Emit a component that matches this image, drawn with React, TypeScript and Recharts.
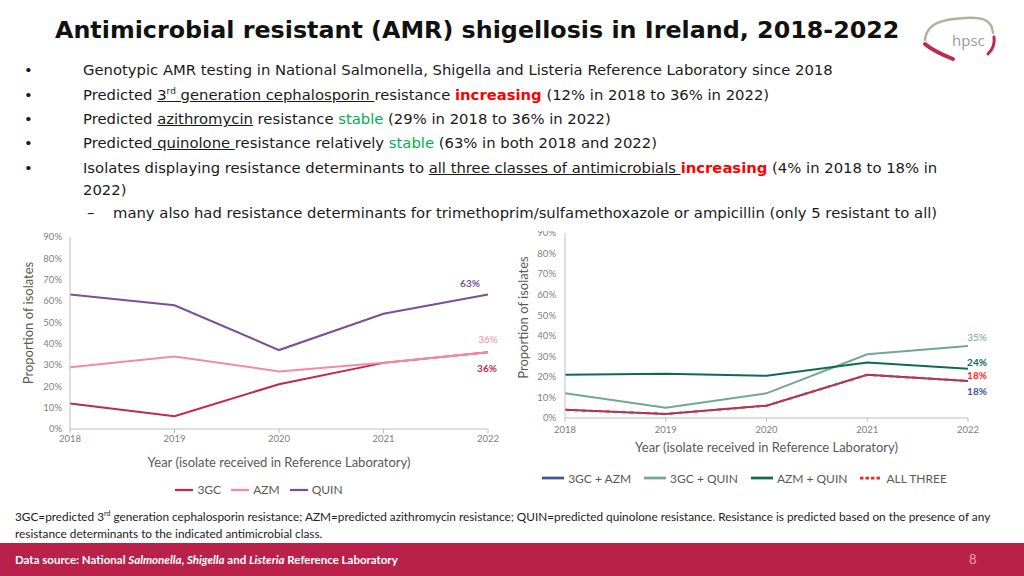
import React from 'react';
import { LineChart, Line, XAxis, YAxis, Legend } from 'recharts';

const years = ['2018', '2019', '2020', '2021', '2022'];
const yTicks = [0, 10, 20, 30, 40, 50, 60, 70, 80, 90];

// left chart: single class resistance (% of isolates)
const gc3 = [12, 6, 21, 31, 36];
const azm = [29, 34, 27, 31, 36];
const quin = [63, 58, 37, 54, 63];

// right chart: combined resistance (% of isolates)
const gc3Azm = [4, 2, 6, 21, 18];
const gc3Quin = [12, 5, 12, 31, 35];
const azmQuin = [21, 21.5, 20.5, 27, 24];
const allThree = [4, 2, 6, 21, 18];

const comboOrder = ['3GC + AZM', '3GC + QUIN', 'AZM + QUIN', 'ALL THREE'];

const singleData = years.map((year, i) => ({ year, gc3: gc3[i], azm: azm[i], quin: quin[i] }));
const comboData = years.map((year, i) => ({
  year,
  gc3Azm: gc3Azm[i],
  gc3Quin: gc3Quin[i],
  azmQuin: azmQuin[i],
  allThree: allThree[i],
}));

const CHART_FONT = 'Lato, "Open Sans", sans-serif';
const TEXT_FONT = '"DejaVu Sans", Verdana, sans-serif';
const AXIS_GREY = '#BFBFBF';
const TICK_GREY = '#7F7F7F';
const TITLE_GREY = '#595959';

const endLabel = (color: string, dx: number, dy: number, bold = true) => (props: any) => {
  const { x, y, index, value } = props;
  if (index !== years.length - 1) return null;
  return (
    <text
      x={x + dx}
      y={y + dy}
      fill={color}
      fontSize={10}
      fontWeight={bold ? 700 : 400}
      fontFamily={CHART_FONT}
      textAnchor="middle"
      dominantBaseline="central"
    >
      {value}%
    </text>
  );
};

const yTitle = (dy: number, dx: number) => (props: any) => {
  const { viewBox } = props;
  const cx = viewBox.x + dx;
  const cy = viewBox.y + viewBox.height / 2 + dy;
  return (
    <text
      x={cx}
      y={cy}
      transform={`rotate(-90 ${cx} ${cy})`}
      textAnchor="middle"
      dominantBaseline="central"
      fill={TITLE_GREY}
      fontSize={13}
      fontFamily={CHART_FONT}
    >
      Proportion of isolates
    </text>
  );
};

const legendText = (value: string) => (
  <span style={{ color: TITLE_GREY, fontSize: 12, fontFamily: CHART_FONT }}>{value}</span>
);

const xTitle = 'Year (isolate received in Reference Laboratory)';

function SingleChart() {
  return (
    <LineChart
      width={510}
      height={275}
      data={singleData}
      margin={{ top: 12, right: 22, left: 16, bottom: 3 }}
    >
      <XAxis
        dataKey="year"
        stroke={AXIS_GREY}
        tickSize={4}
        tickMargin={2}
        height={48}
        tick={{ fill: TICK_GREY, fontSize: 9.5, fontFamily: CHART_FONT }}
        label={{ value: xTitle, position: 'insideBottom', offset: 10, fill: TITLE_GREY, fontSize: 13, fontFamily: CHART_FONT }}
      />
      <YAxis
        width={54}
        domain={[0, 90]}
        ticks={yTicks}
        interval={0}
        stroke={AXIS_GREY}
        tickLine={false}
        tickSize={6}
        tickMargin={2}
        tickFormatter={(v: number) => `${v}%`}
        tick={{ fill: TICK_GREY, fontSize: 9.5, fontFamily: CHART_FONT }}
        label={{ content: yTitle(-10, 12) }}
      />
      <Legend
        height={20}
        iconType="plainline"
        iconSize={18}
        formatter={legendText}
        wrapperStyle={{ lineHeight: '20px', left: 28, top: 254 }}
      />
      <Line dataKey="gc3" name="3GC" stroke="#C0284F" strokeWidth={2} dot={false} isAnimationActive={false}
        label={endLabel('#C0284F', -1, 16)} />
      <Line dataKey="azm" name="AZM" stroke="#F28BA5" strokeWidth={2} dot={false} isAnimationActive={false}
        label={endLabel('#F28BA5', 0, -13, false)} />
      <Line dataKey="quin" name="QUIN" stroke="#7D4E96" strokeWidth={2} dot={false} isAnimationActive={false}
        label={endLabel('#7D4E96', -18, -12)} />
    </LineChart>
  );
}

function ComboChart() {
  return (
    <LineChart
      width={514}
      height={270}
      data={comboData}
      margin={{ top: 13, right: 56, left: 0, bottom: 10 }}
    >
      <XAxis
        dataKey="year"
        stroke={AXIS_GREY}
        tickSize={4}
        tickMargin={4}
        height={42}
        tick={{ fill: TICK_GREY, fontSize: 9.5, fontFamily: CHART_FONT }}
        label={{ value: xTitle, position: 'insideBottom', offset: 8, fill: TITLE_GREY, fontSize: 13, fontFamily: CHART_FONT }}
      />
      <YAxis
        width={55}
        domain={[0, 90]}
        ticks={yTicks}
        interval={0}
        stroke={AXIS_GREY}
        tickLine={false}
        tickSize={6}
        tickMargin={3}
        tickFormatter={(v: number) => `${v}%`}
        tick={{ fill: TICK_GREY, fontSize: 9.5, fontFamily: CHART_FONT }}
        label={{ content: yTitle(-8, 13) }}
      />
      <Legend
        height={20}
        iconType="plainline"
        iconSize={22}
        formatter={(value: string) => (
          <span style={{ color: TITLE_GREY, fontSize: 12, fontFamily: CHART_FONT, paddingRight: 3 }}>{value}</span>
        )}
        itemSorter={(item: any) => comboOrder.indexOf(item.value)}
        wrapperStyle={{ lineHeight: '20px', left: 12, top: 247 }}
      />
      <Line dataKey="gc3Azm" name="3GC + AZM" stroke="#44549A" strokeWidth={2} dot={false} isAnimationActive={false}
        label={endLabel('#44549A', 9, 10)} />
      <Line dataKey="gc3Quin" name="3GC + QUIN" stroke="#72A890" strokeWidth={2} dot={false} isAnimationActive={false}
        label={endLabel('#72A890', 9, -9, false)} />
      <Line dataKey="azmQuin" name="AZM + QUIN" stroke="#0E6A52" strokeWidth={2} dot={false} isAnimationActive={false}
        label={endLabel('#0E6A52', 9, -7)} />
      <Line dataKey="allThree" name="ALL THREE" stroke="#FF1F1F" strokeWidth={2} strokeDasharray="5 3" dot={false}
        isAnimationActive={false} label={endLabel('#FF1F1F', 9, -6)} />
    </LineChart>
  );
}

const red = { color: '#FF0000', fontWeight: 700 };
const green = { color: '#00B050' };
const u = { textDecoration: 'underline' };
const supStyle = (size: number) => ({ fontSize: size, verticalAlign: 'super' as const, lineHeight: 0 });

function Bullet({ y, children, sub = false }: { y: number; children: React.ReactNode; sub?: boolean }) {
  return (
    <div style={{ position: 'absolute', top: y - 11, left: 0, height: 22, lineHeight: '22px', whiteSpace: 'nowrap' }}>
      {sub ? (
        <span style={{ position: 'absolute', left: 87 }}>–</span>
      ) : (
        <span style={{ position: 'absolute', left: 24 }}>•</span>
      )}
      <span style={{ position: 'absolute', left: sub ? 113 : 83 }}>{children}</span>
    </div>
  );
}

function Logo() {
  return (
    <svg width={90} height={60} style={{ position: 'absolute', left: 915, top: 6 }}>
      <path d="M 10 34 C 11 18, 26 13, 50 12 C 68 11, 77 14, 78 27" fill="none" stroke="#B4B29A" strokeWidth={2.5} strokeLinecap="round" />
      <path d="M 10 38 C 18 45, 28 49, 38 53" fill="none" stroke="#C0284E" strokeWidth={4} strokeLinecap="round" />
      <path d="M 79 31 C 80 38, 77 44, 73 48" fill="none" stroke="#C0284E" strokeWidth={3} strokeLinecap="round" />
      <text x={37} y={40} fontSize={15} fill="#9B9B9B" fontFamily="'Open Sans', sans-serif">hpsc</text>
    </svg>
  );
}

export default function App() {
  return (
    <div style={{ position: 'absolute', left: 0, top: 0, width: 1024, height: 576, overflow: 'hidden', background: '#fff', fontFamily: TEXT_FONT, color: '#1a1a1a' }}>
      <div style={{ position: 'absolute', left: 55, top: 12, fontSize: 23.8, fontWeight: 700, lineHeight: '36px', whiteSpace: 'nowrap', color: '#111' }}>
        Antimicrobial resistant (AMR) shigellosis in Ireland, 2018-2022
      </div>
      <Logo />
      <div style={{ fontSize: 14.8 }}>
        <Bullet y={70}>Genotypic AMR testing in National Salmonella, Shigella and Listeria Reference Laboratory since 2018</Bullet>
        <Bullet y={95}>
          Predicted <span style={u}>3<span style={supStyle(9)}>rd</span> generation cephalosporin </span>resistance <span style={red}>increasing</span> (12% in 2018 to 36% in 2022)
        </Bullet>
        <Bullet y={119}>
          Predicted <span style={u}>azithromycin</span> resistance <span style={green}>stable</span> (29% in 2018 to 36% in 2022)
        </Bullet>
        <Bullet y={143}>
          Predicted<span style={u}> quinolone </span>resistance relatively <span style={green}>stable</span> (63% in both 2018 and 2022)
        </Bullet>
        <Bullet y={168}>
          Isolates displaying resistance determinants to <span style={u}>all three classes of antimicrobials </span><span style={red}>increasing</span> (4% in 2018 to 18% in
        </Bullet>
        <div style={{ position: 'absolute', left: 83, top: 179, lineHeight: '22px' }}>2022)</div>
        <Bullet y={213} sub>
          many also had resistance determinants for trimethoprim/sulfamethoxazole or ampicillin (only 5 resistant to all)
        </Bullet>
      </div>

      <div style={{ position: 'absolute', left: 0, top: 225 }}>
        <SingleChart />
      </div>
      <div style={{ position: 'absolute', left: 510, top: 220 }}>
        <ComboChart />
      </div>
      <div style={{ position: 'absolute', left: 525, top: 222, width: 40, height: 9, background: '#fff' }} />

      <div style={{ position: 'absolute', left: 15, top: 508, fontSize: 11.8, lineHeight: '17px', color: '#222', fontFamily: CHART_FONT, width: 995 }}>
        3GC=predicted 3<span style={supStyle(7)}>rd</span> generation cephalosporin resistance; AZM=predicted azithromycin resistance; QUIN=predicted quinolone resistance. Resistance is predicted based on the presence of any resistance determinants to the indicated antimicrobial class.
      </div>

      <div style={{ position: 'absolute', left: 0, top: 543, width: 1024, height: 33, background: '#B9214A' }}>
        <div style={{ position: 'absolute', left: 15, top: 0, lineHeight: '33px', fontSize: 11.5, color: '#fff', fontFamily: CHART_FONT, fontWeight: 700 }}>
          Data source: National <i>Salmonella</i>, <i>Shigella</i> and <i>Listeria</i> Reference Laboratory
        </div>
        <div style={{ position: 'absolute', left: 969, top: 0, lineHeight: '33px', fontSize: 13, color: '#E3A7B6', fontFamily: CHART_FONT }}>8</div>
      </div>
    </div>
  );
}
